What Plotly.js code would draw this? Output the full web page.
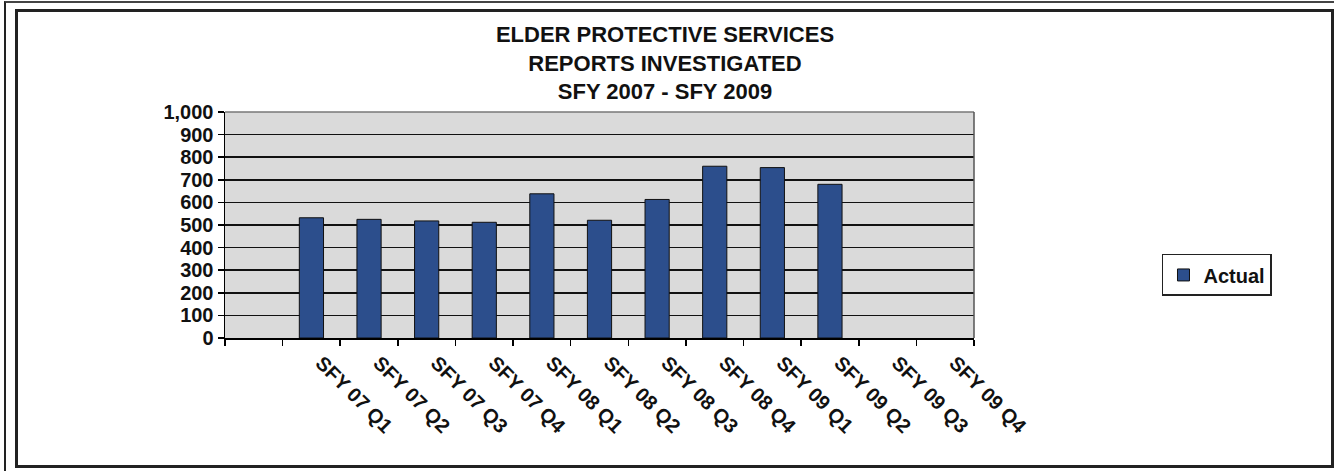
<!DOCTYPE html>
<html>
<head>
<meta charset="utf-8">
<script src="https://cdn.plot.ly/plotly-3.0.1.min.js"></script>
<style>
html,body{margin:0;padding:0;background:#fff;}
#wrap{position:relative;width:1334px;height:471px;overflow:hidden;}
#chart{position:absolute;left:0;top:0;width:1334px;height:471px;}
.frame{position:absolute;pointer-events:none;box-sizing:border-box;}
</style>
</head>
<body>
<div id="wrap">
<div id="chart"></div>
<div class="frame" style="left:4px;top:1px;width:1340px;height:480px;border-left:2px solid #222;border-top:2px solid #444;"></div>
<div class="frame" style="left:15px;top:9px;width:1319px;height:459px;border:3px solid #222;border-right-width:3px;"></div>
</div>
<script>
const categories = [" ", "SFY 07 Q1", "SFY 07 Q2", "SFY 07 Q3", "SFY 07 Q4", "SFY 08 Q1", "SFY 08 Q2", "SFY 08 Q3", "SFY 08 Q4", "SFY 09 Q1", "SFY 09 Q2", "SFY 09 Q3", "SFY 09 Q4"];
const actual = [null, 532, 525, 518, 512, 638, 521, 613, 760, 754, 680, null, null];
const yTicks = [0, 100, 200, 300, 400, 500, 600, 700, 800, 900, 1000];
const titleText = "ELDER PROTECTIVE SERVICES<br>REPORTS INVESTIGATED<br>SFY 2007 - SFY 2009";
const seriesName = "Actual";

const font = "Liberation Sans, Arial, sans-serif";

const trace = {
  type: "bar",
  x: categories,
  y: actual,
  name: seriesName,
  marker: {color: "#2c4e8c", line: {color: "#111", width: 1}},
  showlegend: true
};

const layout = {
  width: 1334,
  height: 471,
  margin: {l: 225, r: 360, t: 112, b: 133},
  paper_bgcolor: "rgba(0,0,0,0)",
  plot_bgcolor: "#dadada",
  font: {family: font, color: "#000"},
  title: {
    text: "<b>" + titleText + "</b>",
    font: {family: font, size: 22, color: "#111"},
    x: 0.4985, xanchor: "center", xref: "container",
    y: 1 - 42/471, yanchor: "top", yref: "container"
  },
  bargap: 0.58,
  xaxis: {
    type: "category",
    categoryorder: "array",
    categoryarray: categories,
    range: [-0.5, 12.5],
    tickson: "boundaries",
    ticks: "outside", ticklen: 6, tickwidth: 1.5, tickcolor: "#000",
    tickangle: 45,
    ticklabelshift: 10,
    ticklabelstandoff: 4,
    tickfont: {family: font, size: 20, color: "#111", weight: "bold"},
    showline: true, linecolor: "#000", linewidth: 1.5,
    showgrid: false, zeroline: false, fixedrange: true
  },
  yaxis: {
    range: [0, 1000],
    tickvals: yTicks,
    tickformat: ",d",
    ticks: "outside", ticklen: 6, tickwidth: 1.5, tickcolor: "#000",
    tickfont: {family: font, size: 20, color: "#111", weight: "bold"},
    showline: true, linecolor: "#000", linewidth: 1.5,
    showgrid: true, gridcolor: "#111", gridwidth: 1.5,
    zeroline: false, fixedrange: true
  },
  shapes: [
    {type: "line", xref: "paper", yref: "paper", x0: 0, x1: 1, y0: 1, y1: 1, line: {color: "#777", width: 1.5}, layer: "above"},
    {type: "line", xref: "paper", yref: "paper", x0: 1, x1: 1, y0: 0, y1: 1, line: {color: "#555", width: 1.5}, layer: "above"}
  ],
  legend: {
    x: 1.251, xanchor: "left", y: 0.279, yanchor: "middle",
    bgcolor: "#fff", bordercolor: "#222", borderwidth: 1.5,
    font: {family: font, size: 20, color: "#111", weight: "bold"},
    itemwidth: 30,
    entrywidth: 110, entrywidthmode: "pixels"
  },
  separators: ".,"
};

Plotly.newPlot("chart", [trace], layout, {displayModeBar: false, staticPlot: true});
</script>
</body>
</html>
